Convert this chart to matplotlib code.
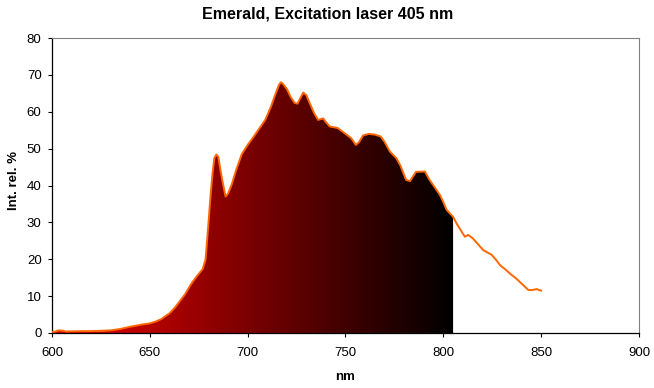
import matplotlib
matplotlib.use("Agg")
import matplotlib.pyplot as plt
import numpy as np
from matplotlib.colors import LinearSegmentedColormap

# Данные спектра (нм, интенсивность %)
wl = [600, 602, 603, 606, 607, 615, 620, 625, 630, 635, 640, 645, 650, 653, 656,
      658, 660, 663, 665, 668, 671, 674, 677, 678.5, 680, 681, 682, 683, 684, 685,
      686, 687, 688.7, 690, 692, 694, 697, 700, 703, 706, 709, 712, 714, 716, 717,
      718, 720, 722, 724, 725.5, 727, 728.4, 730, 732, 734, 736, 738.6, 740, 742,
      746, 750, 753, 755.3, 757, 759, 762, 765, 768, 770, 772.7, 776, 778, 781, 783,
      786, 790.6, 793, 796, 798.3, 800, 801.7, 805, 807, 809, 811, 812.7, 815,
      818.7, 820.4, 822, 824.7, 827, 829, 832, 835, 837, 839, 841, 843.4, 845,
      847.7, 850]
intensity = [0.3, 0.4, 0.7, 0.6, 0.4, 0.5, 0.5, 0.6, 0.7, 1.1, 1.7, 2.2, 2.6, 3.1, 3.8,
             4.6, 5.3, 7.0, 8.4, 10.5, 13.2, 15.4, 17.3, 20, 30, 37, 43, 47.5, 48.4, 47.8,
             44.5, 41.5, 37.0, 37.8, 40.5, 44.0, 48.5, 51, 53.2, 55.5, 57.8, 61.5, 64.5,
             67.3, 68, 67.6, 66.2, 64.0, 62.4, 62.2, 63.8, 65.2, 64.5, 62, 59.6, 57.8,
             58.2, 57.2, 56.0, 55.6, 54.0, 52.8, 51.0, 51.8, 53.6, 54, 53.8, 53.3, 51.8,
             49.2, 47.4, 45.5, 41.5, 41.2, 43.7, 43.8, 41.5, 39.2, 37.4, 35.5, 33.4, 31.5,
             29.5, 27.8, 26.1, 26.6, 25.7, 23.5, 22.5, 22.0, 21.2, 19.8, 18.4, 17.1, 15.7,
             14.9, 13.9, 12.9, 11.7, 11.6, 11.9, 11.5]
fill_end = 805  # закрашенная часть до 805 нм

wl = np.array(wl)
intensity = np.array(intensity)

plt.rcParams['font.family'] = ['Liberation Sans', 'DejaVu Sans']

fig = plt.figure(figsize=(6.54, 3.88), dpi=100)
ax = fig.add_axes([0.0795, 0.1418, 0.8975, 0.7602])

# Заливка с градиентом от красного к чёрному
m = wl <= fill_end
poly = ax.fill_between(wl[m], intensity[m], 0, facecolor='none', edgecolor='none')
cmap = LinearSegmentedColormap.from_list('rb', ['#cc0000', '#000000'])
grad = np.linspace(0, 1, 256).reshape(1, -1)
x0 = 630
img = ax.imshow(grad, cmap=cmap, aspect='auto', extent=[x0, fill_end, 0, 80],
                origin='lower', zorder=1)
img.set_clip_path(poly.get_paths()[0], transform=ax.transData)
# левая часть заливки (до x0) - чистый красный
left = wl <= x0 + 1
ax.fill_between(wl[left], intensity[left], 0, color='#cc0000', lw=0, zorder=1)

# Оранжевая линия
ax.plot(wl, intensity, color='#ff6600', lw=1.4, zorder=3)

ax.set_xlim(600, 900)
ax.set_ylim(0, 80)
ax.set_xticks(np.arange(600, 901, 50))
ax.set_yticks(np.arange(0, 81, 10))
ax.tick_params(direction='out', length=3, width=0.8, labelsize=9.5, colors='black')
ax.tick_params(axis='x', pad=7)
ax.tick_params(axis='y', pad=4.5)
for s in ['top', 'right']:
    ax.spines[s].set_color('#808080')
    ax.spines[s].set_linewidth(0.8)
for s in ['left', 'bottom']:
    ax.spines[s].set_linewidth(0.9)

fig.text(328 / 654, 1 - 14 / 388, 'Emerald, Excitation laser 405 nm', ha='center',
         va='center', fontsize=11.5, fontweight='bold')
fig.text(345 / 654, 1 - 377 / 388, 'nm', ha='center', va='center',
         fontsize=9.5, fontweight='bold')
fig.text(14 / 654, 1 - 181 / 388, 'Int. rel. %', ha='center', va='center',
         rotation=90, fontsize=9.5, fontweight='bold')

fig.savefig('out.png', dpi=100)
